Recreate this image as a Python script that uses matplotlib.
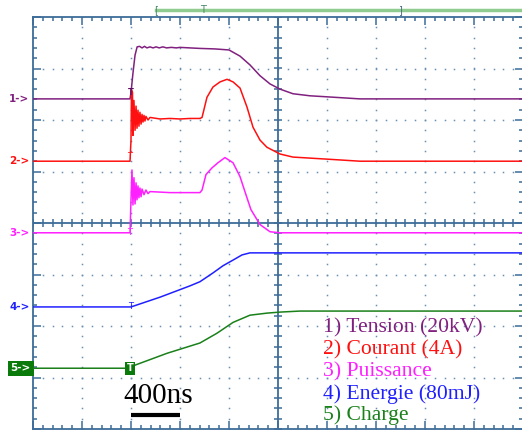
import numpy as np
import matplotlib
matplotlib.use('Agg')
import matplotlib.pyplot as plt

# temps en ns (0 = declenchement), amplitudes en divisions au-dessus du repere de chaque voie
t_tension = [-800, -8, 0, 16, 33, 50, 70, 90, 110, 130, 155, 180, 205, 230, 260, 290,
             330, 370, 400, 480, 563, 686, 800, 890, 971, 1053, 1135, 1216, 1322, 1461,
             1600, 1869, 3200]
v_tension = [0, 0, 0.12, 0.50, 0.85, 1.01, 1.02, 0.99, 1.02, 0.99, 1.01, 0.99, 1.01, 0.99,
             1.01, 0.99, 1.00, 0.99, 1.00, 0.99, 0.98, 0.97, 0.95, 0.83, 0.66, 0.45, 0.29,
             0.19, 0.10, 0.06, 0.04, 0.0, 0.0]

t_courant = [-800, -8, 0, 4, 12, 16, 24, 33, 41, 49, 57, 65, 73, 82, 90, 98, 106, 114,
             122, 139, 155, 237, 318, 400, 482, 563, 580, 620, 669, 727, 784, 833, 890,
             947, 996, 1053, 1110, 1216, 1322, 1600, 1869, 3200]
v_courant = [0, 0, 0.41, 1.38, 1.34, 0.50, 1.18, 0.60, 1.07, 0.64, 0.99, 0.68, 0.95, 0.72,
             0.91, 0.76, 0.89, 0.78, 0.87, 0.80, 0.85, 0.82, 0.83, 0.82, 0.83, 0.83, 0.85,
             1.24, 1.44, 1.54, 1.59, 1.54, 1.42, 1.05, 0.66, 0.41, 0.27, 0.14, 0.08, 0.04,
             0.0, 0.0]

t_puissance = [-800, -8, 0, 8, 16, 24, 33, 41, 49, 57, 65, 73, 82, 90, 106, 122, 139, 155,
               318, 563, 580, 612, 661, 710, 767, 833, 890, 930, 979, 1053, 1135, 1216, 3200]
v_puissance = [0, 0, 0.64, 1.22, 0.54, 1.07, 0.56, 0.97, 0.64, 0.91, 0.68, 0.87, 0.70,
               0.85, 0.74, 0.83, 0.76, 0.80, 0.78, 0.78, 0.83, 1.13, 1.26, 1.36, 1.46, 1.36,
               1.09, 0.80, 0.45, 0.16, 0.02, 0.0, 0.0]

t_energie = [-800, 0, 237, 482, 563, 669, 751, 833, 906, 971, 3200]
v_energie = [0, 0, 0.19, 0.41, 0.49, 0.66, 0.80, 0.91, 1.01, 1.05, 1.05]

t_charge = [-800, 0, 33, 294, 563, 702, 833, 971, 1110, 1216, 1380, 3200]
v_charge = [0, 0, 0.06, 0.29, 0.49, 0.68, 0.89, 1.03, 1.07, 1.09, 1.11, 1.11]

# reperes des voies (divisions depuis le centre de l'ecran)
offsets = [2.41, 1.20, -0.19, -1.63, -2.82]
couleurs = ['#80207f', '#ff1010', '#ff20ff', '#2020ff', '#1a801a']
legende = ['1) Tension (20kV)', '2) Courant (4A)', '3) Puissance',
           '4) Energie (80mJ)', '5) Charge']
ns_par_div = 400

fig = plt.figure(figsize=(5.22, 4.32), dpi=100)
ax = fig.add_axes([33 / 522, 3 / 432, 490 / 522, 412 / 432])
ax.set_xlim(-800, 3200)
ax.set_ylim(-4, 4)

cadre = '#3d6c99'
for s in ax.spines.values():
    s.set_color(cadre)
    s.set_linewidth(1.3)
ax.set_xticks(np.arange(-800, 3201, ns_par_div))
ax.set_yticks(np.arange(-4, 5, 1))
ax.set_xticks(np.arange(-800, 3201, ns_par_div / 5), minor=True)
ax.set_yticks(np.arange(-4, 4.01, 0.2), minor=True)
ax.tick_params(which='both', direction='in', top=True, right=True, labelbottom=False,
               labelleft=False, color=cadre, width=1.1)
ax.tick_params(which='major', length=5.5)
ax.tick_params(which='minor', length=3)

# grille pointillee
xmin = np.arange(-800, 3201, ns_par_div / 5)
ymin = np.arange(-4, 4.01, 0.2)
for xg in np.arange(-400, 3200, ns_par_div):
    if xg == 1200:
        continue
    ax.plot(np.full_like(ymin, xg), ymin, ls='', marker='s', ms=1.1, mew=0, color='#6a8fb3')
for yg in [-3, -2, -1, 1, 2, 3]:
    ax.plot(xmin, np.full_like(xmin, yg), ls='', marker='s', ms=1.1, mew=0, color='#6a8fb3')

# axes centraux avec graduations
ax.axhline(0, color=cadre, lw=1.3)
ax.axvline(1200, color=cadre, lw=1.3)
ax.plot(xmin, np.zeros_like(xmin), ls='', marker='|', ms=6, mew=1.1, color=cadre)
ax.plot(np.full_like(ymin, 1200), ymin, ls='', marker='_', ms=6, mew=1.1, color=cadre)

traces = [(t_tension, v_tension), (t_courant, v_courant), (t_puissance, v_puissance),
          (t_energie, v_energie), (t_charge, v_charge)]
for i, (t, v) in enumerate(traces):
    ax.plot(t, np.array(v) + offsets[i], color=couleurs[i], lw=1.1, zorder=4)

# reperes de voie a gauche
for i, off in enumerate(offsets):
    if i == 4:
        ax.annotate(f'{i + 1}->', xy=(0, off), xycoords=('axes fraction', 'data'),
                    xytext=(-1.5, 0), textcoords='offset points', ha='right', va='center',
                    fontsize=7.5, fontweight='bold', color='white', annotation_clip=False,
                    bbox=dict(boxstyle='square,pad=0.25', fc='#0a7a0a', ec='none'))
    else:
        ax.annotate(f'{i + 1}->', xy=(0, off), xycoords=('axes fraction', 'data'),
                    xytext=(-2.5, 0), textcoords='offset points', ha='right', va='center',
                    fontsize=7.5, fontweight='bold', color=couleurs[i], annotation_clip=False)

# marqueurs de declenchement
ax.text(0, offsets[0] + 0.13, 'T', color='#601060', fontsize=6, fontweight='bold',
        ha='center', va='center', zorder=5)
ax.text(-15, offsets[1] + 0.1, 'T', color=couleurs[1], fontsize=6, ha='center', va='center', zorder=5)
ax.text(-15, offsets[2], 'T', color=couleurs[2], fontsize=6, ha='center', va='center', zorder=5)
ax.text(0, offsets[3], 'T', color=couleurs[3], fontsize=6, ha='center', va='center', zorder=5)
ax.text(-10, offsets[4], 'T', color='white', fontsize=7, fontweight='bold', ha='center',
        va='center', zorder=5, bbox=dict(boxstyle='square,pad=0.15', fc='#0a7a0a', ec='none'))

# barre d'acquisition en haut
ax.plot([204, 3300], [4.136, 4.136], color='#90cc90', lw=2.5, clip_on=False)
ax.text(204, 4.136, '[', color='#4a8a6a', fontsize=7, ha='center', va='center', clip_on=False)
ax.text(588, 4.136, 'T', color='#4a8a6a', fontsize=7, ha='center', va='center', clip_on=False)
ax.text(2196, 4.136, ']', color='#4a6a8a', fontsize=7, ha='center', va='center', clip_on=False)

# legende
for i, txt in enumerate(legende):
    ax.text(1567, -2.04 - 0.425 * i, txt, color=couleurs[i], fontsize=15.6,
            family='Liberation Serif', ha='left', va='center', zorder=6)

# echelle de temps
ax.text(220, -3.36, '400ns', fontsize=21, family='Liberation Serif', ha='center',
        va='center', color='black')
ax.plot([0, ns_par_div], [-3.73, -3.73], color='black', lw=3, solid_capstyle='butt')

fig.savefig('out.png', dpi=100)
